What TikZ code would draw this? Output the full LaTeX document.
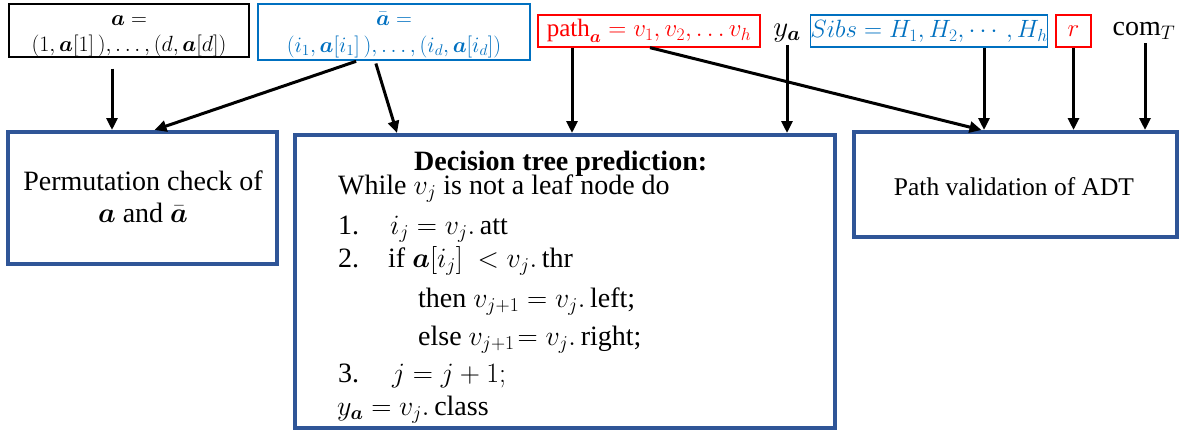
\RequirePackage{fix-cm}
\documentclass[tikz,border=0pt]{standalone}
\usepackage{amsmath,bm}
\usepackage{fontspec}
\setmainfont{Liberation Serif}
\usetikzlibrary{arrows.meta}
\definecolor{boxblue}{HTML}{2F5597}
\definecolor{txtblue}{HTML}{0070C0}
\definecolor{txtred}{HTML}{FF0000}
\newcommand\bfa{\bm{a}}
\begin{document}
\begin{tikzpicture}[x=1pt,y=-1pt,
  bigbox/.style={draw=boxblue, line width=4pt, inner sep=0pt},
  thinbox/.style={line width=1.3pt, inner sep=0pt, align=center},
  arr/.style={-{Triangle[length=12pt,width=11pt]}, line width=3pt},
  topfont/.style={font=\fontsize{22}{27}\selectfont, inner sep=0pt, anchor=base},
  midfont/.style={font=\fontsize{25}{29}\selectfont},
  bodyfont/.style={font=\fontsize{28}{32}\selectfont},
  linetxt/.style={bodyfont, anchor=base west, inner sep=0pt}
]
\useasboundingbox (0,0) rectangle (1180,434);

% big boxes
\node[bigbox, minimum width=269pt, minimum height=132pt] (P) at (142.5,198) {};
\node[bigbox, minimum width=540pt, minimum height=293pt] (D) at (565,281.5) {};
\node[bigbox, minimum width=323pt, minimum height=105pt] (V) at (1015.5,184.5) {};

% top inputs
\node[thinbox, draw=black, minimum width=240pt, minimum height=53pt] (A) at (129,30.5) {};
\node[topfont] (a1) at (129,25) {$\bfa =$};
\node[topfont] (a2) at (129,51) {$(1,\bfa[1]\,),\ldots,(d,\bfa[d])$};
\node[thinbox, draw=txtblue, minimum width=272pt, minimum height=56pt] (Ab) at (394,32) {};
\node[topfont, text=txtblue] (b1) at (394,25) {$\bar{\bfa} =$};
\node[topfont, text=txtblue] (b2) at (394,52) {$(i_1,\bfa[i_1]\,),\ldots,(i_d,\bfa[i_d])$};
\node[thinbox, draw=txtred, text=txtred, midfont, minimum width=222pt, minimum height=32pt] (path) at (649,31)
  {$\mathrm{path}_{\bfa} = v_1, v_2, \ldots v_h$};
\node[font=\fontsize{29}{32}\selectfont, inner sep=0pt, anchor=base] (ya) at (787,36) {$y_{\bfa}$};
\node[thinbox, draw=txtblue, text=txtblue, midfont, minimum width=236pt, minimum height=32pt] (sibs) at (929,31)
  {$Sibs = H_1, H_2, \cdots, H_h$};
\node[thinbox, draw=txtred, text=txtred, midfont, minimum width=35pt, minimum height=32pt] (r) at (1073.5,31)
  {$r$};
\node[font=\fontsize{28}{32}\selectfont, inner sep=0pt, anchor=base] (com) at (1144,35) {$\mathrm{com}_T$};

% texts inside the big boxes
\node[bodyfont, inner sep=0pt, anchor=base] (p1) at (143,190) {Permutation check of};
\node[bodyfont, inner sep=0pt, anchor=base] (p2) at (143,222) {$\bfa$ and $\bar{\bfa}$};
\node[font=\fontsize{25.5}{30}\selectfont, inner sep=0pt, anchor=base] (v1) at (1014,195) {Path validation of ADT};

\node[bodyfont, inner sep=0pt, anchor=base west] (t0) at (414,170) {\textbf{Decision tree prediction:}};
\node[linetxt] (t1) at (338,194) {While $v_j$ is not a leaf node do};
\node[linetxt] (n1) at (338,234) {1.};
\node[linetxt] (t2) at (390,234) {$i_j = v_j.\,\mathrm{att}$};
\node[linetxt] (n2) at (338,267) {2.};
\node[linetxt] (t3) at (388,267) {if $\bfa[i_j]\ < v_j.\,\mathrm{thr}$};
\node[linetxt] (t4) at (418,307) {then $v_{j+1} = v_j.\,\mathrm{left}$;};
\node[linetxt] (t5) at (418,345) {else $v_{j+1}\!= v_j.\,\mathrm{right}$;};
\node[linetxt] (n3) at (338,382) {3.};
\node[linetxt] (t6) at (392,382) {$j = j + 1;$};
\node[linetxt] (t7) at (337,415) {$y_{\bfa} = v_j.\,\mathrm{class}$};

% connectors
\draw[arr, shorten <=11pt] ([xshift=-17pt]A.south) -- ([xshift=-17pt]A.south |- P.north);
\draw[arr, shorten <=2pt] ([xshift=-36pt]Ab.south) -- ([xshift=12pt]P.north);
\draw[arr, shorten <=3pt] ([xshift=-19pt]Ab.south) -- ([xshift=-168pt]D.north);
\draw[arr] ([xshift=-77pt]path.south) -- ([xshift=-77pt]path.south |- D.north);
\draw[arr] ([xshift=1pt]path.south) -- ([xshift=-34pt]V.north);
\draw[arr, shorten <=3pt] (ya.south) -- (ya.south |- D.north);
\draw[arr] ([xshift=55pt]sibs.south) -- ([xshift=55pt]sibs.south |- V.north);
\draw[arr] (r.south) -- (r.south |- V.north);
\draw[arr, shorten <=4pt] ([xshift=1pt]com.south) -- ([xshift=1pt]com.south |- V.north);
\end{tikzpicture}
\end{document}
